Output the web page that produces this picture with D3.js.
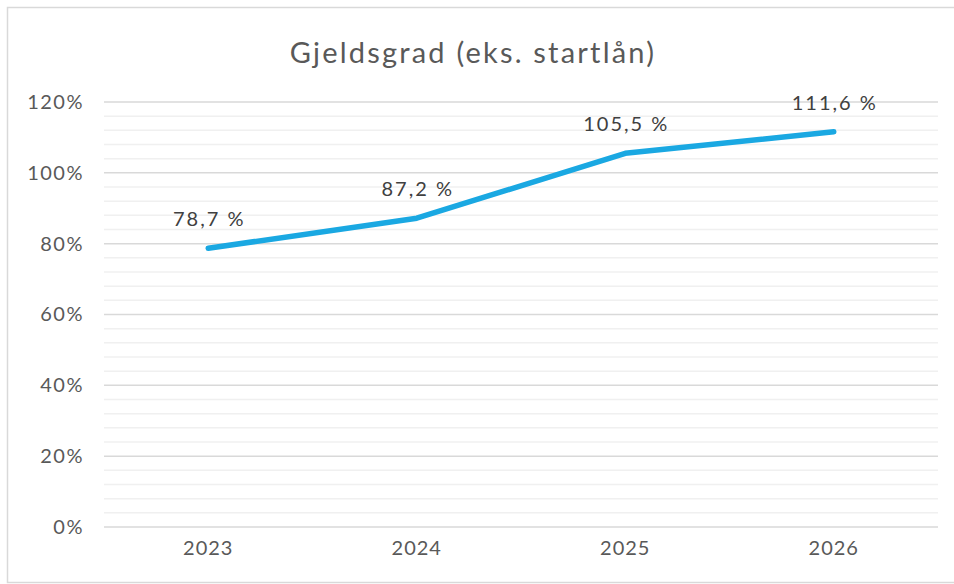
<!DOCTYPE html>
<html>
<head>
<meta charset="utf-8">
<script src="https://cdn.jsdelivr.net/npm/d3@7"></script>
<style>
  body { margin: 0; background: #fff; }
  text { font-family: Lato, "Open Sans", sans-serif; fill: #595959; }
</style>
</head>
<body>
<div id="chart"></div>
<script>
var years = ["2023", "2024", "2025", "2026"];
var values = [78.7, 87.2, 105.5, 111.6];
var yTicks = [0, 20, 40, 60, 80, 100, 120];
var chartTitle = "Gjeldsgrad (eks. startlån)";

var svgWidth = 954;
var svgHeight = 584;

var margin = { top: 102, right: 16, bottom: 57, left: 104 };
var width = svgWidth - margin.left - margin.right;
var height = svgHeight - margin.top - margin.bottom;

var svg = d3.select("#chart")
  .append("svg")
  .attr("width", svgWidth)
  .attr("height", svgHeight);

// outer frame (right edge falls off the picture)
svg.append("rect")
  .attr("x", 7.5)
  .attr("y", 7.5)
  .attr("width", svgWidth)
  .attr("height", svgHeight - 9)
  .attr("fill", "#fff")
  .attr("stroke", "#d9d9d9")
  .attr("stroke-width", 1.5);

svg.append("text")
  .attr("x", 473)
  .attr("y", 63)
  .attr("text-anchor", "middle")
  .attr("font-size", 29)
  .attr("letter-spacing", 2.2)
  .text(chartTitle);

var chartGroup = svg.append("g")
  .attr("transform", `translate(${margin.left}, ${margin.top})`);

var x = d3.scaleBand()
  .domain(years)
  .range([0, width]);

var y = d3.scaleLinear()
  .domain([0, 120])
  .range([height, 0]);

// minor gridlines every 4%
chartGroup.append("g")
  .selectAll("line")
  .data(d3.range(0, 121, 4).filter(d => d % 20 !== 0))
  .enter()
  .append("line")
  .attr("x1", 0)
  .attr("x2", width)
  .attr("y1", d => y(d))
  .attr("y2", d => y(d))
  .attr("stroke", "#f0f0f0")
  .attr("stroke-width", 1.5);

// major gridlines
chartGroup.append("g")
  .selectAll("line")
  .data(yTicks)
  .enter()
  .append("line")
  .attr("x1", 0)
  .attr("x2", width)
  .attr("y1", d => y(d))
  .attr("y2", d => y(d))
  .attr("stroke", "#d9d9d9")
  .attr("stroke-width", 1.5);

var leftAxis = d3.axisLeft(y)
  .tickValues(yTicks)
  .tickFormat(d => d + "%")
  .tickSize(0)
  .tickPadding(20);

var yAxisG = chartGroup.append("g").call(leftAxis);
yAxisG.select(".domain").remove();
yAxisG.selectAll("text")
  .attr("font-size", 20)
  .attr("letter-spacing", 1.5)
  .attr("font-family", "Lato, sans-serif")
  .attr("fill", "#595959");

var bottomAxis = d3.axisBottom(x).tickSize(0).tickPadding(14);
var xAxisG = chartGroup.append("g")
  .attr("transform", `translate(0, ${height})`)
  .call(bottomAxis);
xAxisG.select(".domain").remove();
xAxisG.selectAll("text")
  .attr("font-size", 20)
  .attr("letter-spacing", 1)
  .attr("font-family", "Lato, sans-serif")
  .attr("fill", "#595959");

var line = d3.line()
  .x((d, i) => x(years[i]) + x.bandwidth() / 2)
  .y(d => y(d));

chartGroup.append("path")
  .datum(values)
  .attr("d", line)
  .attr("fill", "none")
  .attr("stroke", "#1aa8e2")
  .attr("stroke-width", 5.5)
  .attr("stroke-linecap", "round")
  .attr("stroke-linejoin", "round");

chartGroup.selectAll(".lbl")
  .data(values)
  .enter()
  .append("text")
  .attr("class", "lbl")
  .attr("x", (d, i) => x(years[i]) + x.bandwidth() / 2 + 1)
  .attr("y", d => y(d) - 22)
  .attr("text-anchor", "middle")
  .attr("font-size", 20)
  .attr("letter-spacing", 2)
  .style("fill", "#404040")
  .text(d => d.toFixed(1).replace(".", ",") + " %");
</script>
</body>
</html>
